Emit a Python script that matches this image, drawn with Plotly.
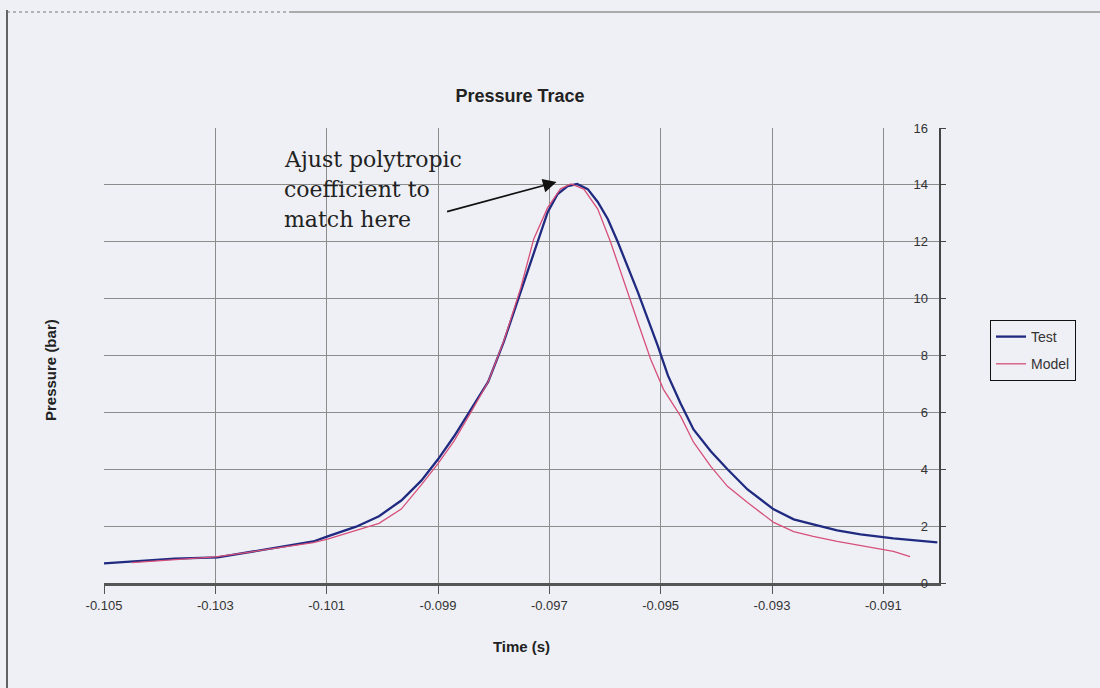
import plotly.graph_objects as go

# ---------------- data ----------------
test_time = [-0.1050, -0.10444, -0.10373, -0.10296, -0.10244, -0.10185, -0.10124, -0.10097,
             -0.10047, -0.10006, -0.09966, -0.0993, -0.0990, -0.09871, -0.09841, -0.0981,
             -0.09782, -0.09764, -0.09739, -0.09721, -0.09703, -0.09685, -0.09667, -0.0965,
             -0.09631, -0.09613, -0.09595, -0.09577, -0.09559, -0.09541, -0.09523, -0.09505,
             -0.09487, -0.09464, -0.09441, -0.0941, -0.0938, -0.09344, -0.09297, -0.09261,
             -0.09226, -0.09183, -0.09141, -0.09082, -0.09003]
test_pressure = [0.69, 0.76, 0.86, 0.90, 1.07, 1.25, 1.46, 1.65,
                 1.98, 2.35, 2.90, 3.60, 4.35, 5.16, 6.11, 7.07,
                 8.47, 9.52, 10.93, 11.99, 13.04, 13.68, 13.96, 14.03,
                 13.85, 13.40, 12.80, 11.99, 11.14, 10.23, 9.28, 8.33,
                 7.30, 6.30, 5.40, 4.63, 4.00, 3.29, 2.59, 2.24,
                 2.06, 1.85, 1.71, 1.57, 1.43]

model_time = [-0.1045, -0.1037, -0.1030, -0.10244, -0.10185, -0.10124, -0.10097, -0.10047,
              -0.10006, -0.09966, -0.0993, -0.0990, -0.09871, -0.09841, -0.0981, -0.09782,
              -0.09751, -0.09728, -0.09703, -0.0968, -0.09661, -0.09638, -0.09613, -0.0959,
              -0.09566, -0.09541, -0.09518, -0.09495, -0.09464, -0.09441, -0.0941, -0.0938,
              -0.09344, -0.09297, -0.09261, -0.09226, -0.09183, -0.09141, -0.09082, -0.09052]
model_pressure = [0.72, 0.84, 0.92, 1.07, 1.24, 1.42, 1.55, 1.85,
                  2.10, 2.60, 3.45, 4.20, 5.00, 6.00, 7.07, 8.50,
                  10.40, 12.10, 13.20, 13.86, 14.03, 13.85, 13.15, 11.99,
                  10.58, 9.17, 7.87, 6.81, 5.86, 4.95, 4.10, 3.40,
                  2.83, 2.13, 1.81, 1.64, 1.46, 1.32, 1.11, 0.93]

x_tick_values = [-0.105, -0.103, -0.101, -0.099, -0.097, -0.095, -0.093, -0.091]
x_tick_labels = ["-0.105", "-0.103", "-0.101", "-0.099", "-0.097", "-0.095", "-0.093", "-0.091"]
y_tick_values = [0, 2, 4, 6, 8, 10, 12, 14, 16]

annotation_lines = ["Ajust polytropic", "coefficient to", "match here"]
peak_time, peak_pressure = -0.09687, 14.1

# ---------------- layout helpers ----------------
W, H = 1100, 688
PL, PR, PT, PB = 104, 939, 128, 583  # plot area in pixels
BG = "#eff0f5"
SANS = "Liberation Sans, Arial, sans-serif"
SERIF = "DejaVu Serif, serif"


def px(p):
    return (p - PL) / (PR - PL)


def py(p):
    return (PB - p) / (PB - PT)


fig = go.Figure()
fig.add_trace(go.Scatter(x=test_time, y=test_pressure, mode="lines", name="Test",
                         legendgroup="test",
                         line=dict(color="#1f2a80", width=2.3)))
fig.add_trace(go.Scatter(x=model_time, y=model_pressure, mode="lines", name="Model",
                         legendgroup="model",
                         line=dict(color="#d6507a", width=1.3)))
# invisible carrier so the label axis (drawn inside, left of the right-hand line) is rendered
fig.add_trace(go.Scatter(x=[test_time[0]], y=[test_pressure[0]], yaxis="y2", mode="lines",
                         showlegend=False, hoverinfo="skip", line=dict(width=0)))

shapes = [
    # box behind the note (hides gridlines)
    dict(type="rect", xref="paper", yref="paper", x0=px(278), x1=px(478), y0=py(234), y1=py(146),
         fillcolor=BG, line=dict(width=0), layer="below"),
    # page frame remnants
    dict(type="line", xref="paper", yref="paper", x0=px(7), x1=px(7), y0=py(10), y1=py(688),
         line=dict(color="#333", width=1.5)),
    dict(type="line", xref="paper", yref="paper", x0=px(7), x1=px(290), y0=py(12), y1=py(12),
         line=dict(color="#777", width=1, dash="dot")),
    dict(type="line", xref="paper", yref="paper", x0=px(290), x1=px(1100), y0=py(12), y1=py(12),
         line=dict(color="#666", width=1.2)),
]

annotations = [
    dict(text="<b>Pressure (bar)</b>", xref="paper", yref="paper", x=px(50), y=py(370),
         textangle=-90, showarrow=False, font=dict(family=SANS, size=15, color="#222"),
         xanchor="center", yanchor="middle"),
    dict(x=peak_time, y=peak_pressure, xref="x", yref="y", ax=-111, ay=30, text="",
         showarrow=True, arrowhead=2, arrowsize=1.7, arrowwidth=1.6, arrowcolor="#111"),
]
for i, line in enumerate(annotation_lines):
    annotations.append(dict(text=line, xref="paper", yref="paper", x=px(282), y=py(159 + i * 30),
                            xanchor="left", yanchor="middle", showarrow=False,
                            font=dict(family=SERIF, size=22, color="#222")))

fig.update_layout(
    width=W, height=H,
    margin=dict(l=PL, r=W - PR, t=PT, b=H - PB),
    paper_bgcolor=BG, plot_bgcolor=BG,
    title=dict(text="<b>Pressure Trace</b>", x=520 / W, xanchor="center",
               y=1 - 96 / H, yanchor="middle", yref="container",
               font=dict(family=SANS, size=18, color="#222")),
    xaxis=dict(range=[-0.105, -0.09], tickvals=x_tick_values, ticktext=x_tick_labels,
               showgrid=True, gridcolor="#8c8c8c", gridwidth=1,
               showline=True, linecolor="#555", linewidth=3,
               ticks="outside", ticklen=8, tickcolor="#555", zeroline=False,
               tickfont=dict(family=SANS, size=13, color="#333"),
               title=dict(text="<b>Time (s)</b>", standoff=30,
                          font=dict(family=SANS, size=15, color="#222"))),
    yaxis=dict(range=[0, 16], tickvals=y_tick_values, side="right",
               showticklabels=False,
               showgrid=True, gridcolor="#8c8c8c", gridwidth=1,
               showline=True, linecolor="#444", linewidth=2,
               ticks="outside", ticklen=5, tickcolor="#444", zeroline=False),
    yaxis2=dict(range=[0, 16], tickvals=y_tick_values, overlaying="y", side="left",
                anchor="free", position=px(928), showgrid=False, showline=False,
                zeroline=False, ticks="", fixedrange=True,
                tickfont=dict(family=SANS, size=13, color="#333")),
    legend=dict(x=px(990), y=py(320), xanchor="left", yanchor="top",
                bgcolor=BG, bordercolor="#111", borderwidth=1,
                entrywidth=75, entrywidthmode="pixels", tracegroupgap=6,
                font=dict(family=SANS, size=14, color="#333")),
    shapes=shapes,
    annotations=annotations,
)

fig.write_html("out.html")
